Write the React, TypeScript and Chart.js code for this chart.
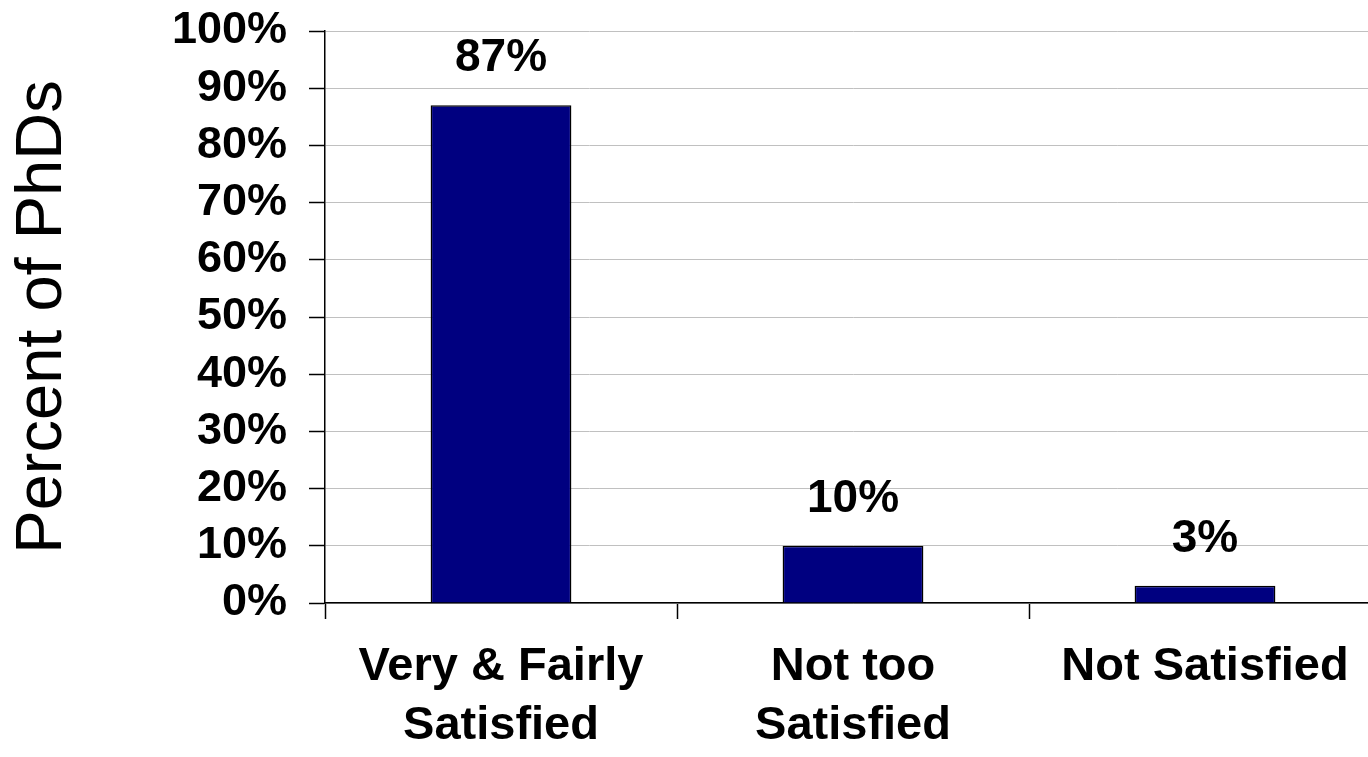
import React, { useEffect, useRef } from "react";
import { Chart, registerables } from "chart.js";

Chart.register(...registerables);

const categories: string[][] = [["Very & Fairly", "Satisfied"], ["Not too", "Satisfied"], ["Not Satisfied"]];
const percentValues: number[] = [87, 10, 3];
const yTickValues: number[] = [0, 10, 20, 30, 40, 50, 60, 70, 80, 90, 100];
const yAxisTitle = "Percent of PhDs";

const FONT = "'Liberation Sans', Arial, Helvetica, sans-serif";

const valueLabelPlugin = {
  id: "valueLabels",
  afterDatasetsDraw(chart: any) {
    const ctx = chart.ctx;
    const meta = chart.getDatasetMeta(0);
    ctx.save();
    ctx.font = `bold 46px ${FONT}`;
    ctx.fillStyle = "#000000";
    ctx.textAlign = "center";
    ctx.textBaseline = "alphabetic";
    meta.data.forEach((bar: any, i: number) => {
      const v = chart.data.datasets[0].data[i];
      ctx.fillText(`${v}%`, bar.x, bar.y - 34);
    });
    ctx.restore();
  },
};

export default function App() {
  const canvasRef = useRef<HTMLCanvasElement | null>(null);

  useEffect(() => {
    if (!canvasRef.current) return;
    Chart.defaults.font.family = FONT;
    Chart.defaults.color = "#000000";
    const chart = new Chart(canvasRef.current, {
      type: "bar",
      data: {
        labels: categories,
        datasets: [
          {
            data: percentValues,
            backgroundColor: "#000080",
            borderColor: "#000000",
            borderWidth: 1.5,
            barPercentage: 0.4,
            categoryPercentage: 1,
          },
        ],
      },
      options: {
        animation: false,
        responsive: true,
        maintainAspectRatio: false,
        layout: { padding: { top: 31, left: 0, right: 5, bottom: 0 } },
        plugins: {
          legend: { display: false },
          tooltip: { enabled: false },
        },
        scales: {
          x: {
            offset: true,
            grid: {
              offset: true,
              drawOnChartArea: false,
              drawTicks: true,
              tickLength: 16,
              tickColor: "#000000",
              tickWidth: 1.5,
            },
            border: { display: true, color: "#000000", width: 1.5 },
            ticks: {
              padding: 19,
              font: { size: 47, weight: "bold", lineHeight: 1.25 },
              color: "#000000",
              maxRotation: 0,
              minRotation: 0,
              autoSkip: false,
            },
            afterFit: (scale: any) => {
              scale.height = 154;
              scale.paddingLeft = 0;
              scale.paddingRight = 0;
              scale.paddingTop = 0;
              scale.paddingBottom = 0;
            },
          },
          y: {
            min: 0,
            max: 100,
            afterBuildTicks: (scale: any) => {
              scale.ticks = yTickValues.map((v) => ({ value: v }));
            },
            grid: {
              color: "#c0c0c0",
              lineWidth: 1,
              drawTicks: true,
              tickLength: 16,
              tickColor: "#000000",
              tickWidth: 1.5,
            },
            border: { display: true, color: "#000000", width: 1.5 },
            ticks: {
              padding: 22,
              autoSkip: false,
              font: { size: 45, weight: "bold", lineHeight: 1.0 },
              color: "#000000",
              callback: (v: any) => `${v}%`,
            },
            title: {
              display: true,
              text: yAxisTitle,
              font: { size: 65, weight: "normal" },
              color: "#000000",
              padding: { top: 4, bottom: 4 },
            },
            afterFit: (scale: any) => {
              scale.width = 325;
              scale.paddingLeft = 0;
              scale.paddingRight = 0;
              scale.paddingTop = 0;
              scale.paddingBottom = 0;
            },
          },
        },
      },
      plugins: [valueLabelPlugin],
    });
    return () => chart.destroy();
  }, []);

  return (
    <div
      style={{
        position: "fixed",
        left: 0,
        top: 0,
        width: 1368,
        height: 757,
        overflow: "hidden",
        background: "#ffffff",
      }}
    >
      <div style={{ position: "relative", width: 1386, height: 757 }}>
        <canvas ref={canvasRef} />
      </div>
    </div>
  );
}
